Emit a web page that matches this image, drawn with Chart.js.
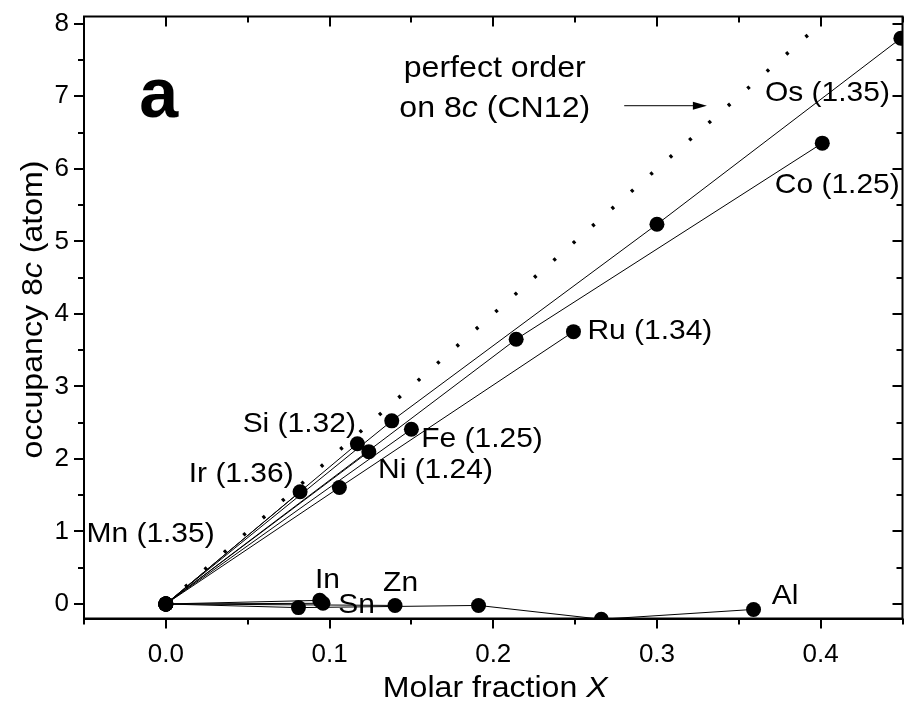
<!DOCTYPE html>
<html>
<head>
<meta charset="utf-8">
<script src="https://cdn.jsdelivr.net/npm/chart.js@4.4.1/dist/chart.umd.min.js"></script>
<style>
  html, body { margin: 0; padding: 0; background: #fff; }
  #wrap { width: 910px; height: 713px; }
</style>
</head>
<body>
<div id="wrap"><canvas id="myChart" width="910" height="713"></canvas></div>
<script>
// series: molar fraction X vs occupancy of 8c
var osX = [0, 0.138, 0.300, 0.449];
var osY = [0, 2.525, 5.235, 7.80];
var coX = [0, 0.214, 0.401];
var coY = [0, 3.65, 6.354];
var ruX = [0, 0.106, 0.249];
var ruY = [0, 1.607, 3.755];
var irX = [0, 0.082];
var irY = [0, 1.547];
var siX = [0, 0.117];
var siY = [0, 2.21];
var niX = [0, 0.124];
var niY = [0, 2.10];
var feX = [0, 0.150];
var feY = [0, 2.41];
var inX = [0, 0.094];
var inY = [0, 0.05];
var snX = [0, 0.096];
var snY = [0, 0.01];
var znX = [0, 0.140];
var znY = [0, -0.02];
var alX = [0, 0.081, 0.191, 0.266, 0.359];
var alY = [0, -0.05, -0.02, -0.21, -0.075];
// perfect order on 8c
var perfectX = [0, 0.4];
var perfectY = [0, 8];

var xTickLabels = ['0.0', '0.1', '0.2', '0.3', '0.4'];
var yTickLabels = ['0', '1', '2', '3', '4', '5', '6', '7', '8'];

// element labels (text, x, y in data units)
var pointLabels = [
    ['Os (1.35)', 0.366, 6.94],
    ['Co (1.25)', 0.372, 5.66],
    ['Ru (1.34)', 0.2575, 3.66],
    ['Fe (1.25)', 0.156, 2.167],
    ['Ni (1.24)', 0.1296, 1.735],
    ['Si (1.32)', 0.0469, 2.373],
    ['Ir (1.36)', 0.0140, 1.685],
    ['Mn (1.35)', -0.0485, 0.859],
    ['In', 0.0911, 0.215],
    ['Sn', 0.1053, -0.128],
    ['Zn', 0.1327, 0.183],
    ['Al', 0.3701, 0.0]
];

const FONT = '"Liberation Sans", Arial, sans-serif';
// the source figure's lettering is a little wider than Arial
const STRETCH = 1.07;

function toPoints(xs, ys) {
    return xs.map((x, i) => ({ x: x, y: ys[i] }));
}

function seriesDataset(label, xs, ys) {
    return {
        label: label,
        data: toPoints(xs, ys),
        borderColor: '#000',
        borderWidth: 1,
        backgroundColor: '#000',
        pointRadius: 7.5,
        pointBorderWidth: 0,
        pointHoverRadius: 7.5,
        showLine: true,
        tension: 0
    };
}

// draws text (parts may be italic), slightly widened
function drawRich(ctx, parts, x, y, size, align) {
    let total = 0;
    parts.forEach(p => {
        ctx.font = (p[1] ? 'italic ' : '') + size + 'px ' + FONT;
        total += ctx.measureText(p[0]).width;
    });
    ctx.save();
    ctx.translate(x, y);
    ctx.scale(STRETCH, 1);
    let cx = align === 'center' ? -total / 2 : 0;
    ctx.textAlign = 'left';
    parts.forEach(p => {
        ctx.font = (p[1] ? 'italic ' : '') + size + 'px ' + FONT;
        ctx.fillText(p[0], cx, 0);
        cx += ctx.measureText(p[0]).width;
    });
    ctx.restore();
}

// frame, inward mirrored ticks, minor ticks, titles and annotations
const decorPlugin = {
    id: 'decor',
    afterDraw(chart) {
        const ctx = chart.ctx;
        const a = chart.chartArea;
        const xs = chart.scales.x;
        const ys = chart.scales.y;
        ctx.save();
        ctx.strokeStyle = '#000';
        ctx.fillStyle = '#000';

        // frame
        ctx.lineWidth = 2;
        ctx.strokeRect(a.left, a.top, a.right - a.left, a.bottom - a.top);

        // ticks
        xs.ticks.forEach(t => {
            const v = t.value;
            const major = Math.abs(v * 10 - Math.round(v * 10)) < 1e-6;
            const len = major ? 10 : 6;
            const px = Math.round(xs.getPixelForValue(v));
            ctx.beginPath();
            ctx.moveTo(px, a.bottom);
            ctx.lineTo(px, a.bottom + len);
            ctx.moveTo(px, a.top);
            ctx.lineTo(px, a.top + len);
            ctx.stroke();
        });
        ys.ticks.forEach(t => {
            const v = t.value;
            const major = Math.abs(v - Math.round(v)) < 1e-6;
            const len = major ? 10 : 6;
            const py = Math.round(ys.getPixelForValue(v));
            ctx.beginPath();
            ctx.moveTo(a.left, py);
            ctx.lineTo(a.left - len, py);
            ctx.moveTo(a.right, py);
            ctx.lineTo(a.right - len, py);
            ctx.stroke();
        });

        // axis titles
        ctx.textBaseline = 'alphabetic';
        drawRich(ctx, [['Molar fraction ', false], ['X', true]], (a.left + a.right) / 2 + 2, 697, 30, 'center');
        ctx.save();
        ctx.translate(42, (a.top + a.bottom) / 2 - 8);
        ctx.rotate(-Math.PI / 2);
        drawRich(ctx, [['occupancy 8', false], ['c', true], [' (atom)', false]], 0, 0, 30, 'center');
        ctx.restore();

        // element labels
        pointLabels.forEach(l => {
            drawRich(ctx, [[l[0], false]], xs.getPixelForValue(l[1]), ys.getPixelForValue(l[2]), 28, 'left');
        });

        // panel letter
        ctx.font = 'bold 70px ' + FONT;
        ctx.textAlign = 'center';
        ctx.fillText('a', xs.getPixelForValue(-0.0043), ys.getPixelForValue(6.71));

        // perfect order note + arrow
        const nx = xs.getPixelForValue(0.2009);
        drawRich(ctx, [['perfect order', false]], nx, ys.getPixelForValue(7.263), 30, 'center');
        drawRich(ctx, [['on 8', false], ['c', true], [' (CN12)', false]], nx, ys.getPixelForValue(6.708), 30, 'center');

        const ax1 = xs.getPixelForValue(0.28);
        const ax2 = xs.getPixelForValue(0.3305);
        const ay = ys.getPixelForValue(6.87);
        ctx.lineWidth = 1;
        ctx.beginPath();
        ctx.moveTo(ax1, ay);
        ctx.lineTo(ax2 - 10, ay);
        ctx.stroke();
        ctx.beginPath();
        ctx.moveTo(ax2, ay);
        ctx.lineTo(ax2 - 14, ay - 4);
        ctx.lineTo(ax2 - 14, ay + 4);
        ctx.closePath();
        ctx.fill();

        ctx.restore();
    }
};

const datasets = [
    seriesDataset('Os', osX, osY),
    seriesDataset('Co', coX, coY),
    seriesDataset('Ru', ruX, ruY),
    seriesDataset('Ir', irX, irY),
    seriesDataset('Si', siX, siY),
    seriesDataset('Ni', niX, niY),
    seriesDataset('Fe', feX, feY),
    seriesDataset('In', inX, inY),
    seriesDataset('Sn', snX, snY),
    seriesDataset('Zn', znX, znY),
    seriesDataset('Al', alX, alY),
    {
        label: 'perfect order',
        data: toPoints(perfectX, perfectY),
        borderColor: '#000',
        borderWidth: 3.5,
        borderDash: [3, 22.9],
        pointRadius: 0,
        showLine: true,
        tension: 0
    }
];

// tick positions: majors at labels, minors halfway
function stepTicks(from, to, step) {
    const out = [];
    const n = Math.round((to - from) / step);
    for (let i = 0; i <= n; i++) out.push({ value: Math.round((from + i * step) * 1000) / 1000 });
    return out;
}

new Chart(document.getElementById('myChart'), {
    type: 'scatter',
    data: { datasets: datasets },
    plugins: [decorPlugin],
    options: {
        responsive: false,
        animation: false,
        layout: { padding: { top: 16.5, right: 5, left: 0, bottom: 0 } },
        plugins: {
            legend: { display: false },
            tooltip: { enabled: false }
        },
        scales: {
            x: {
                type: 'linear',
                min: -0.05,
                max: 0.45,
                afterBuildTicks: function (scale) { scale.ticks = stepTicks(-0.05, 0.45, 0.05); },
                afterFit: function (scale) { scale.height = 94.5; },
                border: { display: true, color: '#000', width: 2 },
                // tick marks are drawn by the plugin; the long invisible tick sets label distance
                grid: { display: true, drawOnChartArea: false, tickLength: 21, tickColor: 'rgba(0,0,0,0)' },
                ticks: {
                    autoSkip: false,
                    maxRotation: 0,
                    padding: 0,
                    color: '#000',
                    font: { family: FONT, size: 26 },
                    callback: function (v) {
                        const k = Math.round(v * 10);
                        if (Math.abs(v * 10 - k) > 1e-6 || k < 0 || k >= xTickLabels.length) return '';
                        return xTickLabels[k];
                    }
                }
            },
            y: {
                type: 'linear',
                min: -0.2,
                max: 8.1,
                afterBuildTicks: function (scale) { scale.ticks = stepTicks(0, 8, 0.5); },
                afterFit: function (scale) { scale.width = 84; },
                border: { display: true, color: '#000', width: 2 },
                grid: { display: true, drawOnChartArea: false, tickLength: 15, tickColor: 'rgba(0,0,0,0)' },
                ticks: {
                    autoSkip: false,
                    padding: 0,
                    color: '#000',
                    font: { family: FONT, size: 26 },
                    callback: function (v) {
                        const k = Math.round(v);
                        if (Math.abs(v - k) > 1e-6 || k < 0 || k >= yTickLabels.length) return '';
                        return yTickLabels[k];
                    }
                }
            }
        }
    }
});
</script>
</body>
</html>
